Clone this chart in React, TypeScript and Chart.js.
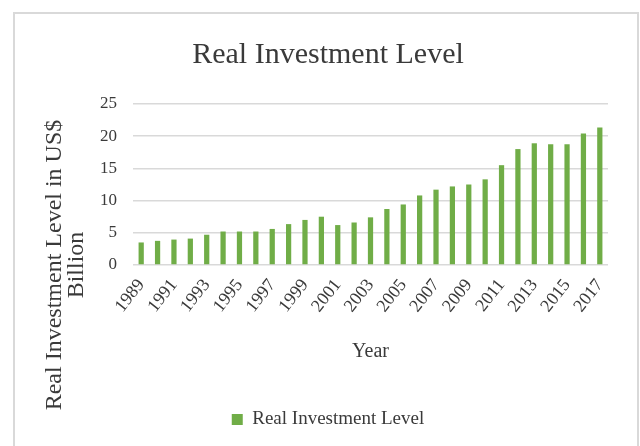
import React, { useEffect, useRef } from "react";
import { Chart, registerables } from "chart.js";

Chart.register(...registerables);

const years: string[] = [
  "1989", "1990", "1991", "1992", "1993", "1994", "1995", "1996", "1997", "1998",
  "1999", "2000", "2001", "2002", "2003", "2004", "2005", "2006", "2007", "2008",
  "2009", "2010", "2011", "2012", "2013", "2014", "2015", "2016", "2017",
];

const investment: number[] = [
  3.5, 3.75, 3.95, 4.1, 4.7, 5.2, 5.2, 5.2, 5.6, 6.35,
  7.0, 7.5, 6.2, 6.6, 7.4, 8.7, 9.4, 10.8, 11.7, 12.2,
  12.5, 13.3, 15.5, 18.0, 18.9, 18.75, 18.75, 20.4, 21.35,
];

const yTicks: number[] = [0, 5, 10, 15, 20, 25];

const chartTitle = "Real Investment Level";
const seriesName = "Real Investment Level";
const yTitleLines: string[] = ["Real Investment Level in US$", "Billion"];
const xTitle = "Year";

const SERIF = "'Liberation Serif', 'Times New Roman', serif";
const TEXT = "#3a3a3a";

export default function App() {
  const ref = useRef<HTMLCanvasElement | null>(null);

  useEffect(() => {
    if (!ref.current) return;
    const yTitlePlugin = {
      id: "yTitle",
      afterDraw(chart: any) {
        const ctx = chart.ctx;
        ctx.save();
        ctx.fillStyle = TEXT;
        ctx.font = `24px ${SERIF}`;
        ctx.textAlign = "center";
        ctx.textBaseline = "middle";
        const xs = [55, 77];
        yTitleLines.forEach((t, i) => {
          ctx.save();
          ctx.translate(xs[i], 265);
          ctx.rotate(-Math.PI / 2);
          ctx.fillText(t, 0, 0);
          ctx.restore();
        });
        ctx.restore();
      },
    };

    const chart = new Chart(ref.current, {
      type: "bar",
      data: {
        labels: years,
        datasets: [
          {
            label: seriesName,
            data: investment,
            backgroundColor: "#70AD47",
            borderWidth: 0,
            categoryPercentage: 1,
            barPercentage: 0.32,
          },
        ],
      },
      plugins: [yTitlePlugin],
      options: {
        animation: false,
        responsive: false,
        devicePixelRatio: 1,
        layout: { padding: { left: 48, right: 32, top: 0, bottom: 7 } },
        plugins: {
          title: {
            display: true,
            text: chartTitle,
            color: TEXT,
            font: { family: SERIF, size: 30, weight: "normal" },
            padding: { top: 37, bottom: 31 },
          },
          legend: {
            display: true,
            position: "bottom",
            labels: {
              color: TEXT,
              font: { family: SERIF, size: 19 },
              boxWidth: 11,
              boxHeight: 11,
              padding: 10,
            },
          },
          tooltip: { enabled: false },
        },
        scales: {
          x: {
            grid: { display: false },
            border: { display: false },
            ticks: {
              autoSkip: false,
              maxRotation: 52,
              minRotation: 52,
              padding: 2,
              color: TEXT,
              font: { family: SERIF, size: 18 },
              callback: (_v: any, i: number) => (i % 2 === 0 ? years[i] : ""),
            },
            title: {
              display: true,
              text: xTitle,
              color: TEXT,
              font: { family: SERIF, size: 20 },
              padding: { top: 0, bottom: 36 },
            },
            afterFit: (s: any) => {
              s.height = 135;
            },
          },
          y: {
            min: 0,
            max: 25,
            afterBuildTicks: (s: any) => {
              s.ticks = yTicks.map((v) => ({ value: v }));
            },
            grid: { color: "#d9d9d9", lineWidth: 1.5, drawTicks: false },
            border: { display: false },
            ticks: {
              padding: 16,
              color: TEXT,
              font: { family: SERIF, size: 17 },
            },
            afterFit: (s: any) => {
              s.width = 85;
            },
          },
        },
      },
    });
    return () => chart.destroy();
  }, []);

  return (
    <div style={{ position: "absolute", left: 0, top: 0, width: 640, height: 446, overflow: "hidden", background: "#fff" }}>
      <div
        style={{
          position: "absolute",
          left: 13,
          top: 12,
          width: 622,
          height: 460,
          border: "2px solid #d9d9d9",
        }}
      />
      <canvas ref={ref} width={640} height={446} style={{ position: "absolute", left: 0, top: 0, display: "block" }} />
    </div>
  );
}
